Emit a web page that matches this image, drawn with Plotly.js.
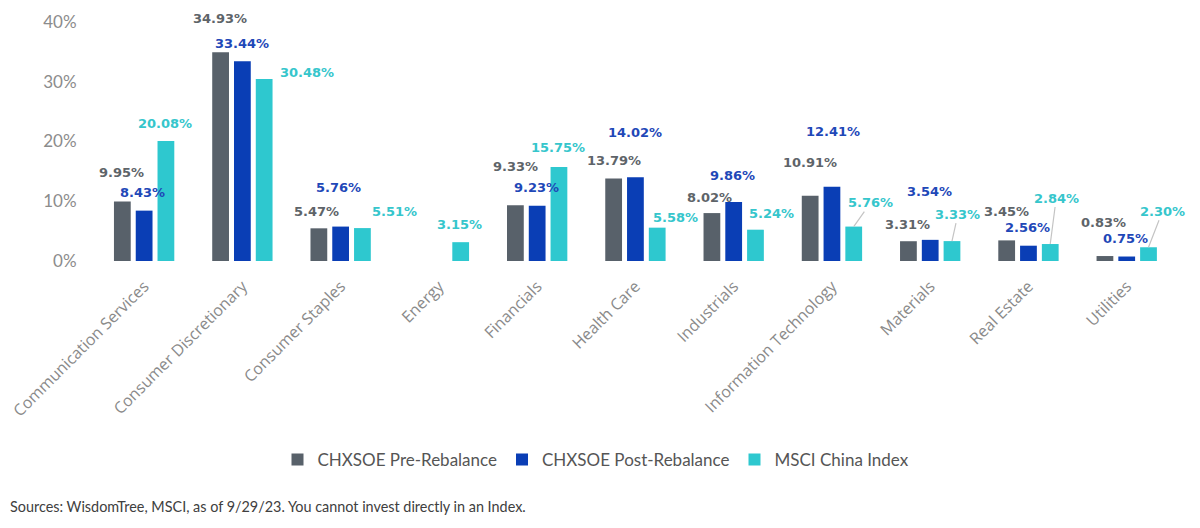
<!DOCTYPE html>
<html>
<head>
<meta charset="utf-8">
<script src="https://cdn.plot.ly/plotly-3.0.1.min.js"></script>
<style>
  html, body { margin: 0; padding: 0; background: #ffffff; }
  #chart { width: 1200px; height: 528px; }
</style>
</head>
<body>
<div id="chart"></div>
<script>
// ---- Data ----
const categories = [
  "Communication Services", "Consumer Discretionary", "Consumer Staples", "Energy",
  "Financials", "Health Care", "Industrials", "Information Technology",
  "Materials", "Real Estate", "Utilities"
];
const preRebalance  = [9.95, 34.93, 5.47, 0, 9.33, 13.79, 8.02, 10.91, 3.31, 3.45, 0.83];
const postRebalance = [8.43, 33.44, 5.76, 0, 9.23, 14.02, 9.86, 12.41, 3.54, 2.56, 0.75];
const msciChina     = [20.08, 30.48, 5.51, 3.15, 15.75, 5.58, 5.24, 5.76, 3.33, 2.84, 2.30];
const seriesNames   = ["CHXSOE Pre-Rebalance", "CHXSOE Post-Rebalance", "MSCI China Index"];
const yTickValues   = [0, 10, 20, 30, 40];
const yTickLabels   = ["0%", "10%", "20%", "30%", "40%"];
const sourceNote    = "Sources: WisdomTree, MSCI, as of 9/29/23. You cannot invest directly in an Index.";

// ---- Label placement (pixel offsets of label centre from bar top) ----
const preLabelOffset  = [[-1,-29],[-1,-34],[-2,-17],[0,0],[0,-39],[0,-18],[-2,-16],[0,-33],[-1,-17],[0,-29],[-1,-34]];
const postLabelOffset = [[-2,-18],[0,-18],[-2,-39],[0,0],[-1,-18],[0,-45],[-1,-27],[1,-55],[-1,-48],[-1,-18],[-1,-18]];
const msciLabelOffset = [[-1,-18],[43,-6],[32,-17],[-1,-18],[-1,-19],[18,-10],[16,-16],[17,-24],[6,-27],[6,-46],[14,-36]];
const msciLeader      = [false,false,false,false,false,false,false,true,true,true,true];

// ---- Styles ----
const barColors   = ["#58616a", "#0a3eb5", "#2ec8cf"];
const labelColors = ["#5e6469", "#1f48b8", "#36c6cc"];
const bargap = 0.335, bargroupgap = 0.23;
const slot = (1 - bargap) / 3;
const slotOffsets = [-slot, 0, slot];

const margin = { l: 95, r: 13, t: 22, b: 267 };
const W = 1200, H = 528;
const plotH = H - margin.t - margin.b;
const plotW = W - margin.l - margin.r;

const seriesValues = [preRebalance, postRebalance, msciChina];
const traces = seriesValues.map((vals, s) => ({
  type: "bar",
  name: seriesNames[s],
  x: categories,
  y: vals,
  marker: { color: barColors[s] },
  hoverinfo: "skip"
}));

const offsets = [preLabelOffset, postLabelOffset, msciLabelOffset];
const annotations = [];
seriesValues.forEach((vals, s) => {
  vals.forEach((v, i) => {
    if (!v) return;
    const [dx, dy] = offsets[s][i];
    const base = {
      x: i + slotOffsets[s], y: v, xref: "x", yref: "y",
      text: v.toFixed(2) + "%",
      font: { family: "DejaVu Sans", size: 13, color: labelColors[s], weight: "bold" },
      xanchor: "center", yanchor: "middle"
    };
    if (s === 2 && msciLeader[i]) {
      Object.assign(base, {
        showarrow: true, arrowhead: 0, arrowwidth: 1.2, arrowcolor: "#c4c4c4",
        ax: dx, ay: dy, standoff: 0
      });
    } else {
      Object.assign(base, { showarrow: false, xshift: dx, yshift: -dy });
    }
    annotations.push(base);
  });
});

annotations.push({
  text: sourceNote,
  xref: "paper", yref: "paper",
  x: (8 - margin.l) / plotW, y: (H - margin.b - 507) / plotH,
  xanchor: "left", yanchor: "middle", showarrow: false,
  font: { family: "Lato", size: 14.4, color: "#404040" }
});

const layout = {
  width: W, height: H,
  margin: margin,
  paper_bgcolor: "#ffffff", plot_bgcolor: "#ffffff",
  barmode: "group", bargap: bargap, bargroupgap: bargroupgap,
  showlegend: true,
  legend: {
    orientation: "h", xref: "container", yref: "container",
    x: 596 / W, xanchor: "center", y: 1 - 460 / H, yanchor: "middle",
    font: { family: "Lato", size: 17, color: "#555555" },
    itemwidth: 30, traceorder: "normal"
  },
  xaxis: {
    type: "category",
    tickangle: -45,
    tickfont: { family: "Open Sans", size: 16, color: "#8a8a8a" },
    ticklabelstandoff: 12,
    showgrid: false, zeroline: false, showline: false,
    ticks: "", fixedrange: true
  },
  yaxis: {
    range: [0, 40],
    tickvals: yTickValues, ticktext: yTickLabels,
    tickfont: { family: "Lato", size: 17, color: "#8c8c8c" },
    showgrid: false, zeroline: false, showline: false,
    ticks: "outside", ticklen: 14, tickcolor: "rgba(0,0,0,0)",
    fixedrange: true
  },
  annotations: annotations
};

Plotly.newPlot("chart", traces, layout, { displayModeBar: false, staticPlot: true });
</script>
</body>
</html>
